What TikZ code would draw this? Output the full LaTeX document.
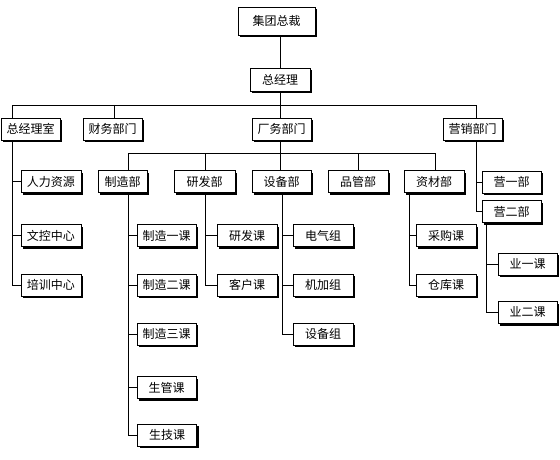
\documentclass[tikz,border=0pt]{standalone}
\usepackage{fontspec}
\newfontfamily\cjk{Noto Sans CJK SC}
\usetikzlibrary{shadows}

\begin{document}
\begin{tikzpicture}[
		x=1pt, y=-1pt,
		box/.style={draw, line width=0.8pt, fill=white, inner sep=0pt,
			minimum width=60pt, minimum height=22pt,
			font=\cjk\fontsize{12}{12}\selectfont,
			drop shadow={shadow xshift=2.4pt, shadow yshift=-2.4pt, fill=black, opacity=1}},
		link/.style={line width=0.8pt, black},
	]
	\useasboundingbox (0,0) rectangle (560,460);

	% ---------- trunks and buses ----------
	\coordinate (x-top) at (280,0);
	\coordinate (x-office) at (12,0);
	\coordinate (x-finance) at (114,0);
	\coordinate (x-market) at (476,0);
	\coordinate (x-mfg) at (128,0);
	\coordinate (x-rnd) at (205,0);
	\coordinate (x-equip) at (282,0);
	\coordinate (x-qc) at (358,0);
	\coordinate (x-material) at (435,0);
	\coordinate (x-buy) at (409,0);
	\coordinate (x-sales) at (486,0);
	\coordinate (bus-a) at (0,105);
	\coordinate (bus-b) at (0,153);

	% ---------- top ----------
	\node[box, minimum width=77pt, minimum height=28pt] (ceo) at (276.5,21) {集团总裁};
	\node[box, minimum height=23pt] (gm) at (280,79.5) {总经理};

	% ---------- departments ----------
	\node[box, minimum width=59pt] (office) at (30.5,129) {总经理室};
	\node[box, minimum width=59pt] (finance) at (112.5,129) {财务部门};
	\node[box, minimum width=59pt] (plant) at (281.5,129) {厂务部门};
	\node[box, minimum width=59pt] (market) at (472.5,129) {营销部门};

	% ---------- plant sections ----------
	\node[box, minimum width=49pt] (mfg) at (122.5,181.5) {制造部};
	\node[box, minimum width=61pt] (rnd) at (204.5,181.5) {研发部};
	\node[box, minimum width=59pt] (equip) at (281.5,181.5) {设备部};
	\node[box] (qc) at (358,181.5) {品管部};
	\node[box] (material) at (434,181.5) {资材部};

	% ---------- sales ----------
	\node[box, minimum width=59pt] (sales1) at (511.5,182) {营一部};
	\node[box, minimum width=59pt] (sales2) at (511.5,211.5) {营二部};
	\node[box, minimum width=59pt] (biz1) at (527.5,264) {业一课};
	\node[box, minimum width=59pt] (biz2) at (527.5,312.5) {业二课};

	% ---------- office ----------
	\node[box] (hr) at (51,181.5) {人力资源};
	\node[box] (doc) at (51,235.5) {文控中心};
	\node[box] (train) at (51,285) {培训中心};

	% ---------- lower groups ----------
	\node[box, minimum width=59pt] (mfg1) at (166.5,235.5) {制造一课};
	\node[box, minimum width=59pt] (mfg2) at (166.5,285) {制造二课};
	\node[box, minimum width=59pt] (mfg3) at (166.5,334) {制造三课};
	\node[box, minimum width=59pt] (prod) at (166.5,387.5) {生管课};
	\node[box, minimum width=59pt] (tech) at (167,435) {生技课};
	\node[box] (rnd1) at (247,235.5) {研发课};
	\node[box] (cust) at (247,285) {客户课};
	\node[box] (elec) at (323,235.5) {电气组};
	\node[box] (mach) at (323,285) {机加组};
	\node[box] (eqgrp) at (323,334) {设备组};
	\node[box] (buy) at (446,235.5) {采购课};
	\node[box] (store) at (446,285) {仓库课};

	% ---------- connectors ----------
	\draw[link] (x-top |- ceo.south) -- (x-top |- gm.north);
	\draw[link] (x-top |- gm.south) -- (x-top |- bus-a);
	\draw[link] (x-office |- office.north) -- (x-office |- bus-a)
		-- (x-market |- bus-a) -- (x-market |- market.north);
	\draw[link] (x-finance |- bus-a) -- (x-finance |- finance.north);
	\draw[link] (x-top |- bus-a) -- (x-top |- plant.north);

	\draw[link] (x-top |- plant.south) -- (x-top |- bus-b);
	\draw[link] (x-mfg |- mfg.north) -- (x-mfg |- bus-b)
		-- (x-material |- bus-b) -- (x-material |- material.north);
	\draw[link] (x-rnd |- bus-b) -- (x-rnd |- rnd.north);
	\draw[link] (x-top |- bus-b) -- (x-top |- equip.north);
	\draw[link] (x-qc |- bus-b) -- (x-qc |- qc.north);

	\foreach \c in {hr,doc,train}
		\draw[link] (x-office |- office.south) |- (\c.west);
	\foreach \c in {mfg1,mfg2,mfg3,prod,tech}
		\draw[link] (x-mfg |- mfg.south) |- (\c.west);
	\foreach \c in {rnd1,cust}
		\draw[link] (x-rnd |- rnd.south) |- (\c.west);
	\foreach \c in {elec,mach,eqgrp}
		\draw[link] (x-equip |- equip.south) |- (\c.west);
	\foreach \c in {buy,store}
		\draw[link] (x-buy |- material.south) |- (\c.west);
	\foreach \c in {sales1,sales2}
		\draw[link] (x-market |- market.south) |- (\c.west);
	\foreach \c in {biz1,biz2}
		\draw[link] (x-sales |- sales2.south) |- (\c.west);

\end{tikzpicture}
\end{document}
